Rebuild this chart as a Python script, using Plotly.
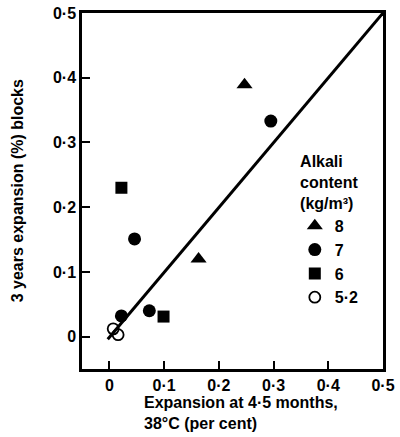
import plotly.graph_objects as go

# Data
x_8 = [0.247, 0.163]
y_8 = [0.389, 0.120]
x_7 = [0.295, 0.046, 0.073, 0.022]
y_7 = [0.333, 0.151, 0.040, 0.032]
x_6 = [0.022, 0.099]
y_6 = [0.230, 0.031]
x_52 = [0.007, 0.016]
y_52 = [0.012, 0.003]
line_x = [-0.003, 0.5]
line_y = [-0.004, 0.5]

tick_vals = [0, 0.1, 0.2, 0.3, 0.4, 0.5]
tick_text = ["0", "0·1", "0·2", "0·3", "0·4", "0·5"]

FONT = "Liberation Sans, Arial, sans-serif"
TF = dict(family=FONT, size=16, color="black", weight="bold")

W, H = 400, 437
ML, MR, MT, MB = 82, 17, 13, 68
LO, HI = -0.05, 0.5

fig = go.Figure()
fig.add_trace(go.Scatter(x=line_x, y=line_y, mode="lines",
                         line=dict(color="black", width=3), showlegend=False))
fig.add_trace(go.Scatter(x=x_8, y=y_8, mode="markers", name="8",
                         marker=dict(symbol="triangle-up", size=14, color="black")))
fig.add_trace(go.Scatter(x=x_7, y=y_7, mode="markers", name="7",
                         marker=dict(symbol="circle", size=13, color="black")))
fig.add_trace(go.Scatter(x=x_6, y=y_6, mode="markers", name="6",
                         marker=dict(symbol="square", size=12, color="black")))
fig.add_trace(go.Scatter(x=x_52, y=y_52, mode="markers", name="5·2",
                         marker=dict(symbol="circle-open", size=11, color="black",
                                     line=dict(width=1.8, color="black"))))

axis_common = dict(
    range=[LO, HI], tickvals=tick_vals, ticktext=tick_text,
    showline=True, linecolor="black", linewidth=2.5, mirror=True,
    ticks="inside", ticklen=8, tickwidth=2, tickcolor="black",
    showgrid=False, zeroline=False,
    tickfont=TF,
)

fig.update_layout(
    width=W, height=H,
    margin=dict(l=ML, r=MR, t=MT, b=MB, autoexpand=False),
    paper_bgcolor="white", plot_bgcolor="white",
    font=TF,
    xaxis=dict(**axis_common),
    yaxis=dict(**axis_common),
    legend=dict(
        x=0.707, y=0.625, xanchor="left", yanchor="top",
        bgcolor="rgba(0,0,0,0)", font=TF,
        title=dict(text="Alkali<br>content<br>(kg/m³)", side="top center",
                   font=TF),
    ),
    annotations=[
        dict(text="Expansion at 4·5 months,<br>38°C (per cent)",
             xref="paper", yref="paper", x=0.198, y=-0.065,
             xanchor="left", yanchor="top", align="left", showarrow=False,
             font=TF),
        dict(text="3 years expansion (%) blocks", textangle=-90,
             xref="paper", yref="paper", x=-0.215, y=0.5,
             xanchor="center", yanchor="middle", showarrow=False,
             font=TF),
    ],
    showlegend=True,
)

fig.write_html("out.html")
